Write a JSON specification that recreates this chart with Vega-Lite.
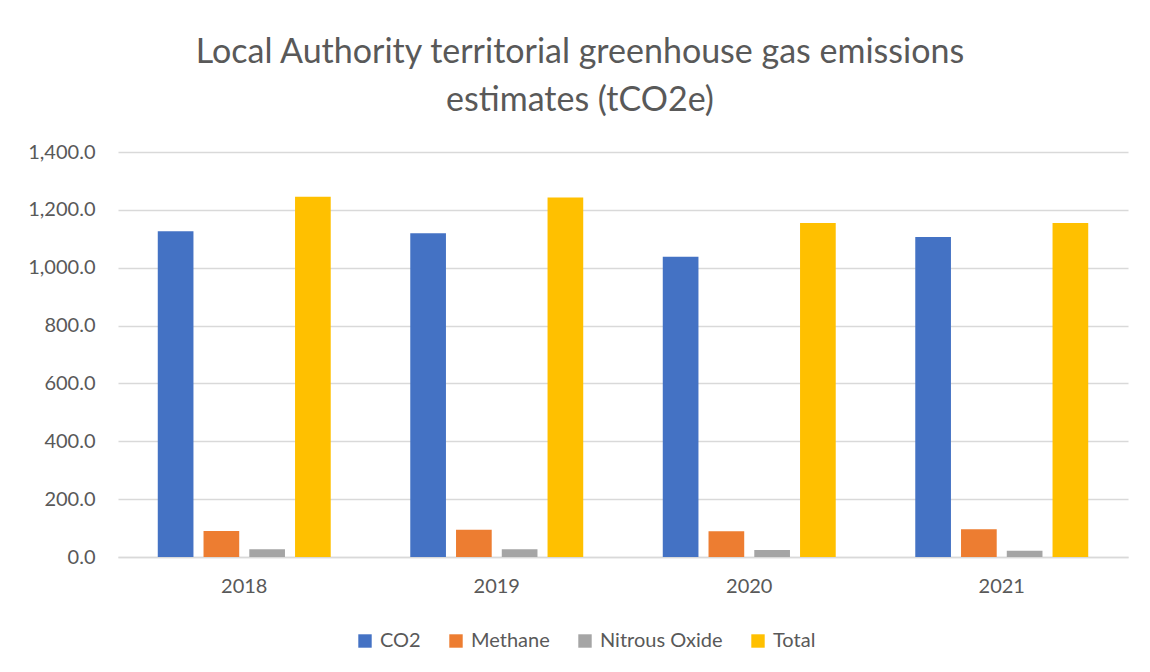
{
  "$schema": "https://vega.github.io/schema/vega-lite/v6.json",
  "autosize": {"type": "none"},
  "width": 1010,
  "height": 405,
  "padding": {"left": 118, "top": 152, "right": 22, "bottom": 115},
  "background": "white",
  "title": {
    "text": ["Local Authority territorial greenhouse gas emissions", "estimates (tCO2e)"],
    "font": "Lato",
    "fontSize": 34,
    "fontWeight": "normal",
    "color": "#595959",
    "lineHeight": 48,
    "anchor": "middle",
    "dx": -43,
    "offset": 24
  },
  "data": {
    "values": [
      {"year": "2018", "gas": "CO2", "value": 1126},
      {"year": "2018", "gas": "Methane", "value": 90},
      {"year": "2018", "gas": "Nitrous Oxide", "value": 27},
      {"year": "2018", "gas": "Total", "value": 1245},
      {"year": "2019", "gas": "CO2", "value": 1119},
      {"year": "2019", "gas": "Methane", "value": 94},
      {"year": "2019", "gas": "Nitrous Oxide", "value": 27},
      {"year": "2019", "gas": "Total", "value": 1243},
      {"year": "2020", "gas": "CO2", "value": 1038},
      {"year": "2020", "gas": "Methane", "value": 89},
      {"year": "2020", "gas": "Nitrous Oxide", "value": 24},
      {"year": "2020", "gas": "Total", "value": 1155},
      {"year": "2021", "gas": "CO2", "value": 1106},
      {"year": "2021", "gas": "Methane", "value": 96},
      {"year": "2021", "gas": "Nitrous Oxide", "value": 22},
      {"year": "2021", "gas": "Total", "value": 1155}
    ]
  },
  "mark": {"type": "bar"},
  "encoding": {
    "x": {
      "field": "year",
      "type": "nominal",
      "scale": {"paddingInner": 0.315, "paddingOuter": 0.1575},
      "axis": {
        "title": null,
        "labelAngle": 0,
        "labelFont": "Lato",
        "labelFontSize": 20,
        "labelColor": "#595959",
        "ticks": false,
        "domainColor": "#d9d9d9",
        "domainWidth": 1.5,
        "labelPadding": 19
      }
    },
    "xOffset": {
      "field": "gas",
      "type": "nominal",
      "sort": ["CO2", "Methane", "Nitrous Oxide", "Total"],
      "scale": {"paddingInner": 0.22, "paddingOuter": 0}
    },
    "y": {
      "field": "value",
      "type": "quantitative",
      "scale": {"domain": [0, 1400], "nice": false},
      "axis": {
        "title": null,
        "format": ",.1f",
        "values": [0, 200, 400, 600, 800, 1000, 1200, 1400],
        "labelFont": "Lato",
        "labelFontSize": 20,
        "labelColor": "#595959",
        "ticks": false,
        "domain": false,
        "gridColor": "#d9d9d9",
        "gridWidth": 1.5,
        "labelPadding": 23
      }
    },
    "color": {
      "field": "gas",
      "type": "nominal",
      "sort": ["CO2", "Methane", "Nitrous Oxide", "Total"],
      "scale": {
        "domain": ["CO2", "Methane", "Nitrous Oxide", "Total"],
        "range": ["#4472C4", "#ED7D31", "#A5A5A5", "#FFC000"]
      },
      "legend": {
        "title": null,
        "orient": "none",
        "direction": "horizontal",
        "legendX": 237,
        "legendY": 479,
        "symbolType": "square",
        "symbolSize": 180,
        "symbolStrokeWidth": 0,
        "labelFont": "Lato",
        "labelFontSize": 20,
        "labelColor": "#595959",
        "labelOffset": 5,
        "columnPadding": 25
      }
    }
  },
  "config": {"view": {"stroke": null}}
}
